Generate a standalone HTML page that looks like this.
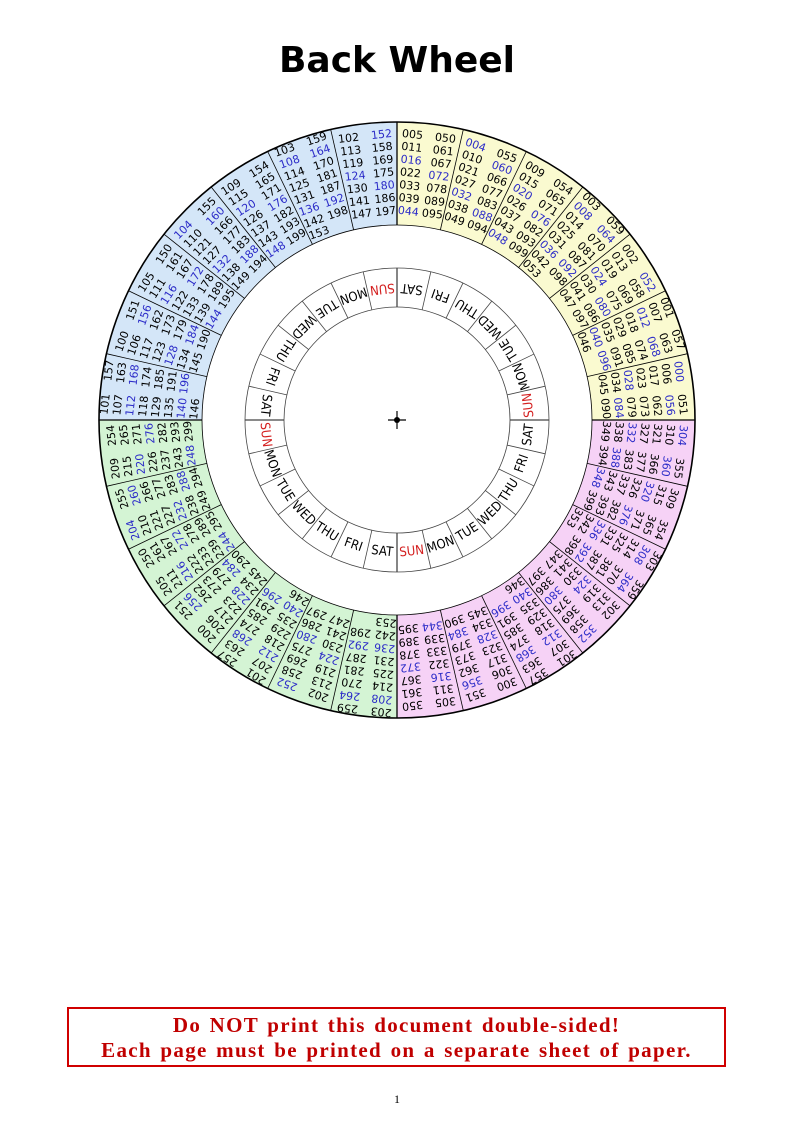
<!DOCTYPE html>
<html><head><meta charset="utf-8"><style>
html,body{margin:0;padding:0;background:#fff;}
body{width:794px;height:1123px;position:relative;overflow:hidden;}
#title{position:absolute;left:0;width:794px;top:40px;text-align:center;font:bold 36px "DejaVu Sans","Liberation Sans",sans-serif;color:#000;}
#box{position:absolute;left:67px;top:1007px;width:655px;height:56px;border:2px solid #d00000;text-align:center;font:bold 21px "Liberation Serif",serif;letter-spacing:1.3px;word-spacing:2px;color:#c00000;line-height:25px;padding-top:4px;box-sizing:content-box;}
#pg{position:absolute;left:0;width:794px;top:1092px;text-align:center;font:12px "Liberation Serif",serif;}
svg{position:absolute;left:0;top:0;}
</style></head><body>
<div id="title">Back Wheel</div>
<svg id="w" width="794" height="1123" viewBox="0 0 794 1123"></svg>
<div id="box" style="height:52px">Do NOT print this document double-sided!<br>Each page must be printed on a separate sheet of paper.</div>
<div id="pg">1</div>
<script>
(function(){
var cx=397,cy=420,R1=195,R2=298,D1=113,D2=152;
var s='';
function pt(r,t){var a=t*Math.PI/180;return [cx+r*Math.sin(a),cy-r*Math.cos(a)];}
function arcSector(r1,r2,t1,t2,fill){
 var a=pt(r2,t1),b=pt(r2,t2),c=pt(r1,t2),d=pt(r1,t1);
 return '<path d="M'+a[0]+' '+a[1]+' A'+r2+' '+r2+' 0 0 1 '+b[0]+' '+b[1]+' L'+c[0]+' '+c[1]+' A'+r1+' '+r1+' 0 0 0 '+d[0]+' '+d[1]+' Z" fill="'+fill+'" stroke="none"/>';
}
var fills=['#fafad0','#f6d2f6','#d4f4d4','#d4e6f8'];
for(var q=0;q<4;q++) s+=arcSector(R1,R2,q*90,(q+1)*90,fills[q]);
s+='<circle cx="'+cx+'" cy="'+cy+'" r="'+R2+'" fill="none" stroke="#000" stroke-width="1.6"/>';
s+='<circle cx="'+cx+'" cy="'+cy+'" r="'+R1+'" fill="none" stroke="#000" stroke-width="0.8"/>';
s+='<circle cx="'+cx+'" cy="'+cy+'" r="'+D2+'" fill="none" stroke="#444" stroke-width="0.8"/>';
s+='<circle cx="'+cx+'" cy="'+cy+'" r="'+D1+'" fill="none" stroke="#444" stroke-width="0.8"/>';
var step=360/28;
for(var k=0;k<28;k++){
 var t=k*step,a=pt(R1,t),b=pt(R2,t),c=pt(D1,t),d=pt(D2,t);
 var w=(k%7==0)?1.3:0.8;
 s+='<line x1="'+a[0]+'" y1="'+a[1]+'" x2="'+b[0]+'" y2="'+b[1]+'" stroke="#000" stroke-width="'+w+'"/>';
 s+='<line x1="'+c[0]+'" y1="'+c[1]+'" x2="'+d[0]+'" y2="'+d[1]+'" stroke="#444" stroke-width="'+w+'"/>';
}
var days=["SAT","FRI","THU","WED","TUE","MON","SUN"];
for(var k=0;k<28;k++){
 var tc=(k+0.5)*step,p=pt((D1+D2)/2,tc),dn=days[k%7];
 s+='<text x="'+p[0]+'" y="'+p[1]+'" transform="rotate('+(tc-180)+' '+p[0]+' '+p[1]+')" text-anchor="middle" dominant-baseline="central" font-family="DejaVu Sans Condensed,DejaVu Sans,sans-serif" font-size="13" fill="'+(dn=="SUN"?"#d42020":"#000")+'">'+dn+'</text>';
}
var cent=[[0,6,0],[300,5,7],[200,3,14],[100,1,21]];
cent.forEach(function(cc){
 var base=cc[0],c=cc[1],k0=cc[2];
 for(var j=0;j<7;j++){
  var k=k0+j,g=((c-k)%7+7)%7,list=[];
  for(var y=0;y<100;y++) if(((y+Math.floor(y/4))%7)==g) list.push(base+y);
  var n1=Math.ceil(list.length/2),col1=list.slice(0,n1),col2=list.slice(n1);
  var nl=n1,sp=12.8,mid=(R1+R2)/2+0.5,tc=(k+0.5)*step,a=tc*Math.PI/180;
  var tx=Math.cos(a),ty=Math.sin(a);
  for(var i=0;i<nl;i++){
   var r=mid+(nl-1)/2*sp-i*sp,p=pt(r,tc),off=r*0.058;
   [[col1[i],-off],[col2[i],off]].forEach(function(e){
    if(e[0]===undefined)return;
    var v=e[0],x=p[0]+e[1]*tx,yy=p[1]+e[1]*ty;
    var yr=v%100,blue=(v%4==0)&&!(yr==0&&v!=0);
    var str=('00'+v).slice(-3);
    s+='<text x="'+x.toFixed(2)+'" y="'+yy.toFixed(2)+'" transform="rotate('+tc.toFixed(2)+' '+x.toFixed(2)+' '+yy.toFixed(2)+')" text-anchor="middle" dominant-baseline="central" font-family="DejaVu Sans,sans-serif" font-size="11" fill="'+(blue?"#2c2cc8":"#000")+'">'+str+'</text>';
   });
  }
 }
});
s+='<line x1="'+(cx-9)+'" y1="'+cy+'" x2="'+(cx+9)+'" y2="'+cy+'" stroke="#000" stroke-width="1.2"/>';
s+='<line x1="'+cx+'" y1="'+(cy-9)+'" x2="'+cx+'" y2="'+(cy+9)+'" stroke="#000" stroke-width="1.2"/>';
s+='<circle cx="'+cx+'" cy="'+cy+'" r="3" fill="#000"/>';
document.getElementById('w').innerHTML=s;
})();
</script>
</body></html>
